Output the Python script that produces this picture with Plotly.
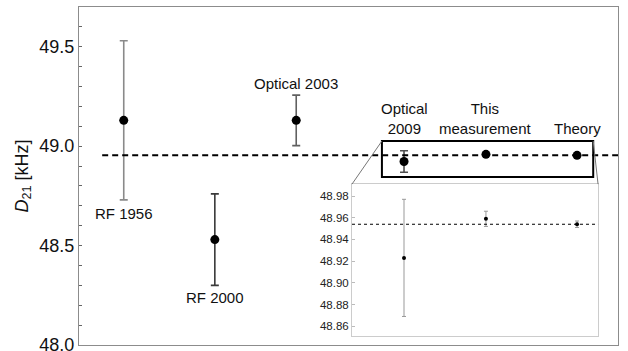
import plotly.graph_objects as go

# ---- data ----
labels = ["RF 1956", "RF 2000", "Optical 2003", "Optical<br>2009", "This<br>measurement", "Theory"]
x_pos = [0.83, 2.52, 4.03, 6.03, 7.55, 9.24]
values = [49.13, 48.53, 49.13, 48.923, 48.959, 48.954]
errors = [0.40, 0.23, 0.127, 0.054, 0.007, 0.003]
bar_colors = ["#8a8a8a", "#3a3a3a", "#606060", "#505050", "#505050", "#505050"]
theory_value = 48.954

main_yrange = [48.0, 49.7]
main_xrange = [0, 10]
inset_yrange = [48.851, 48.991]
inset_xrange = [5.065, 9.63]
box_x = [5.62, 9.54]
box_y = [48.845, 49.026]

FONT = "Liberation Sans, Arial, sans-serif"

fig = go.Figure()

# main points
for i in range(len(labels)):
    fig.add_trace(go.Scatter(
        x=[x_pos[i]], y=[values[i]], mode="markers",
        marker=dict(color="black", size=9),
        error_y=dict(type="data", array=[errors[i]], color=bar_colors[i],
                     thickness=1.6, width=4, visible=errors[i] > 0.02),
        showlegend=False, xaxis="x", yaxis="y"))

# inset points
fig.add_trace(go.Scatter(
    x=x_pos[3:], y=values[3:], mode="markers",
    marker=dict(color="black", size=4),
    error_y=dict(type="data", array=errors[3:], color="#999999",
                 thickness=1, width=2),
    showlegend=False, xaxis="x2", yaxis="y2"))

# labels
ann = []
ann.append(dict(x=x_pos[0], y=values[0] - errors[0], text=labels[0], yanchor="top", yshift=-3))
ann.append(dict(x=x_pos[1], y=values[1] - errors[1], text=labels[1], yanchor="top", yshift=-2))
ann.append(dict(x=x_pos[2], y=values[2] + errors[2], text=labels[2], yanchor="bottom", yshift=1))
for i in range(3, 6):
    ann.append(dict(x=x_pos[i], y=box_y[1], text=labels[i], yanchor="bottom", yshift=2))
for a in ann:
    a.update(xref="x", yref="y", showarrow=False, xanchor="center",
             font=dict(family=FONT, size=15, color="#111"))

W, H = 628, 351
ml, mr, mt, mb = 79, 10, 7, 6


def px_x(v):
    return (v - main_xrange[0]) / (main_xrange[1] - main_xrange[0])


def px_y(v):
    return (v - main_yrange[0]) / (main_yrange[1] - main_yrange[0])


inset_dom_x = [px_x(inset_xrange[0]), px_x(inset_xrange[1])]
inset_dom_y = [0.0266, 0.476]

shapes = [
    dict(type="line", xref="x", yref="y", x0=0.43, x1=main_xrange[1],
         y0=theory_value, y1=theory_value, line=dict(color="black", width=2, dash="6px,4px")),
    dict(type="rect", xref="x", yref="y", x0=box_x[0], x1=box_x[1], y0=box_y[0], y1=box_y[1],
         line=dict(color="black", width=2)),
    dict(type="line", xref="paper", yref="paper", x0=px_x(box_x[0]), y0=px_y(box_y[1]),
         x1=inset_dom_x[0], y1=inset_dom_y[1], line=dict(color="#777", width=1)),
    dict(type="line", xref="paper", yref="paper", x0=px_x(box_x[1]), y0=px_y(box_y[1]),
         x1=inset_dom_x[1], y1=inset_dom_y[1], line=dict(color="#777", width=1)),
    dict(type="line", xref="x2 domain", yref="y2", x0=0, x1=1, y0=theory_value, y1=theory_value,
         line=dict(color="black", width=1, dash="dot")),
]

fig.update_layout(
    width=W, height=H,
    margin=dict(l=ml, r=mr, t=mt, b=mb),
    paper_bgcolor="white", plot_bgcolor="white",
    font=dict(family=FONT, color="#111"),
    annotations=ann, shapes=shapes,
    xaxis=dict(range=main_xrange, domain=[0, 1], showticklabels=False, ticks="",
               showgrid=False, zeroline=False, showline=True, mirror=True,
               linecolor="#8c8c8c", linewidth=1, automargin=False),
    yaxis=dict(range=main_yrange, domain=[0, 1], tickvals=[48.0, 48.5, 49.0, 49.5],
               ticktext=["48.0", "48.5", "49.0", "49.5"],
               ticks="inside", ticklen=3, tickcolor="#666",
               ticklabeloverflow="allow", automargin=False,
               minor=dict(dtick=0.1, ticks="inside", ticklen=3, tickcolor="#666"),
               tickfont=dict(size=18, color="#111"),
               showgrid=False, zeroline=False, showline=True, mirror=True,
               linecolor="#8c8c8c", linewidth=1,
               title=dict(text="<i>D</i><sub>21</sub> [kHz]", font=dict(size=18, color="#111"),
                          standoff=6)),
    xaxis2=dict(range=inset_xrange, domain=inset_dom_x, anchor="y2", showticklabels=False,
                ticks="", showgrid=False, zeroline=False, showline=True, mirror=True,
                linecolor="#cccccc", linewidth=1),
    yaxis2=dict(range=inset_yrange, domain=inset_dom_y, anchor="x2", dtick=0.02,
                tick0=48.86, tickformat=".2f", ticks="inside", ticklen=3, tickcolor="#bbb",
                tickfont=dict(size=11.5, color="#222"),
                showgrid=False, zeroline=False, showline=True, mirror=True,
                linecolor="#cccccc", linewidth=1),
)

fig.write_html("out.html")
